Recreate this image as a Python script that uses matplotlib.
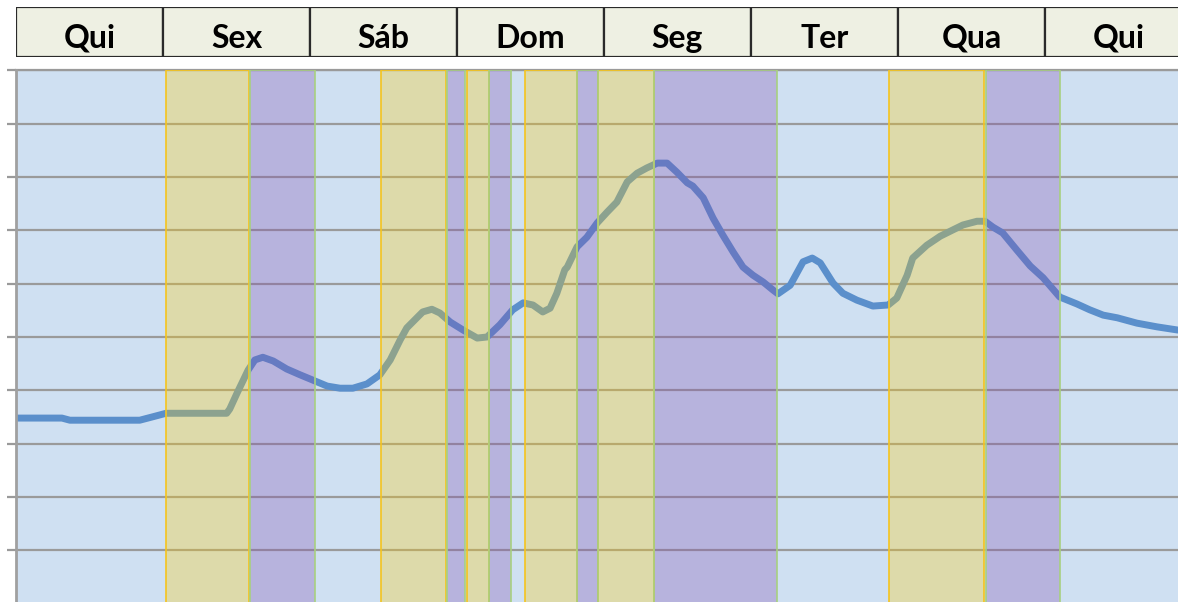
import numpy as np
import matplotlib
matplotlib.use("Agg")
import matplotlib.pyplot as plt
from matplotlib.patches import Rectangle

# ==========================================
# DATA
# ==========================================

days = ["Qui", "Sex", "Sáb", "Dom", "Seg", "Ter", "Qua", "Qui"]

# hours since Thursday 00:00
hours = [0, 7.5, 8.8, 20.2, 22.2, 24.5, 34.4, 34.9, 36.1, 37.9, 39.0, 40.3,
         42.0, 44.2, 46.4, 48.5, 50.8, 52.9, 55.0, 57.3, 59.4, 61.1, 62.7,
         63.8, 66.4, 67.9, 69.2, 70.9, 73.0, 75.3, 76.9, 79.0, 81.1, 82.8,
         84.4, 86.0, 87.2, 88.3, 89.6, 90.0, 91.6, 93.2, 94.9, 96.5, 98.1,
         99.8, 101.4, 103.0, 104.7, 106.3, 107.9, 109.6, 110.5, 112.2, 113.8,
         115.4, 117.1, 118.7, 120.3, 122.0, 123.6, 124.4, 126.4, 128.5,
         130.0, 131.3, 133.4, 135.0, 137.3, 139.9, 142.4, 143.8, 145.5,
         146.4, 148.7, 150.9, 153.0, 154.6, 156.9, 158.2, 159.5, 161.1,
         163.4, 165.6, 167.7, 170.4, 173.2, 175.3, 177.5, 179.8, 183.0,
         186.3, 189.7]

values = [3.48, 3.48, 3.44, 3.44, 3.50, 3.57, 3.57, 3.65, 3.95, 4.38, 4.57,
          4.62, 4.55, 4.40, 4.29, 4.19, 4.08, 4.04, 4.04, 4.12, 4.29, 4.57,
          4.94, 5.17, 5.47, 5.52, 5.45, 5.28, 5.13, 4.98, 5.00, 5.23, 5.51,
          5.64, 5.60, 5.47, 5.54, 5.82, 6.26, 6.31, 6.69, 6.87, 7.14, 7.34,
          7.53, 7.91, 8.07, 8.17, 8.26, 8.26, 8.09, 7.89, 7.83, 7.61, 7.23,
          6.91, 6.59, 6.31, 6.16, 6.03, 5.88, 5.81, 5.97, 6.41, 6.48, 6.39,
          6.01, 5.82, 5.69, 5.58, 5.60, 5.73, 6.16, 6.48, 6.72, 6.89, 7.01,
          7.10, 7.17, 7.17, 7.06, 6.95, 6.63, 6.33, 6.11, 5.75, 5.62, 5.51,
          5.41, 5.36, 5.26, 5.19, 5.13]

# shaded periods (start hour, end hour)
yellow_start = [24.5, 59.6, 73.6, 83.1, 95.0, 142.5]
yellow_end = [38.0, 70.2, 77.2, 91.6, 104.2, 158.0]
purple_start = [38.2, 70.3, 77.2, 91.6, 104.2, 158.4]
purple_end = [48.8, 73.3, 80.8, 95.0, 124.2, 170.4]

# ==========================================
# FIGURE
# ==========================================

W, H = 1178, 602
fig = plt.figure(figsize=(W / 100, H / 100), dpi=100)
fig.patch.set_facecolor("white")

x0 = 16
px_per_hour = 147 / 24
x_max = (W - x0) / px_per_hour

top_px, bottom_px = 70.3, 603.7
ax = fig.add_axes([x0 / W, (H - bottom_px) / H, (W - x0) / W,
                   (bottom_px - top_px) / H])
ax.set_facecolor("#cfe0f2")
ax.set_xlim(0, x_max)
ax.set_ylim(0, 10)

ax.set_yticks(np.arange(0, 11, 1))
ax.set_xticks([])
ax.yaxis.grid(True, color="#9a9a9a", lw=1.6, zorder=1)
ax.set_axisbelow(True)
ax.tick_params(axis="y", length=6.5, width=1.6, color="#9a9a9a",
               labelleft=False)
for s in ["top", "right", "bottom"]:
    ax.spines[s].set_visible(False)
ax.spines["left"].set_color("#a0a0a0")
ax.spines["left"].set_linewidth(2)
ax.axhline(10, color="#9a9a9a", lw=1.6, zorder=1, clip_on=False)

ax.plot(hours, values, color="#5b8fcb", lw=5, solid_capstyle="round",
        solid_joinstyle="round", zorder=2)

for a, b in zip(yellow_start, yellow_end):
    ax.axvspan(a, b, facecolor=(254 / 255, 207 / 255, 5 / 255, 0.3),
               edgecolor="#f5c41e", lw=1.2, zorder=3)
for a, b in zip(purple_start, purple_end):
    ax.axvspan(a, b, facecolor=(130 / 255, 77 / 255, 175 / 255, 0.3),
               edgecolor="#a8d080", lw=1.2, zorder=3)

# ==========================================
# DAY HEADER
# ==========================================

hx = fig.add_axes([x0 / W, (H - 57) / H, (W - x0) / W, 50 / H])
hx.set_xlim(0, x_max / 24)
hx.set_ylim(0, 1)
hx.axis("off")
for i, d in enumerate(days):
    hx.add_patch(Rectangle((i, 0), 1, 1, facecolor="#eef0e3",
                           edgecolor="#2a2a2a", lw=1.6, clip_on=True))
    hx.text(i + 0.5, 0.18, d, ha="center", va="baseline", fontsize=23,
            fontweight="bold", family="Lato", color="black")

fig.savefig("out.png", dpi=100)
